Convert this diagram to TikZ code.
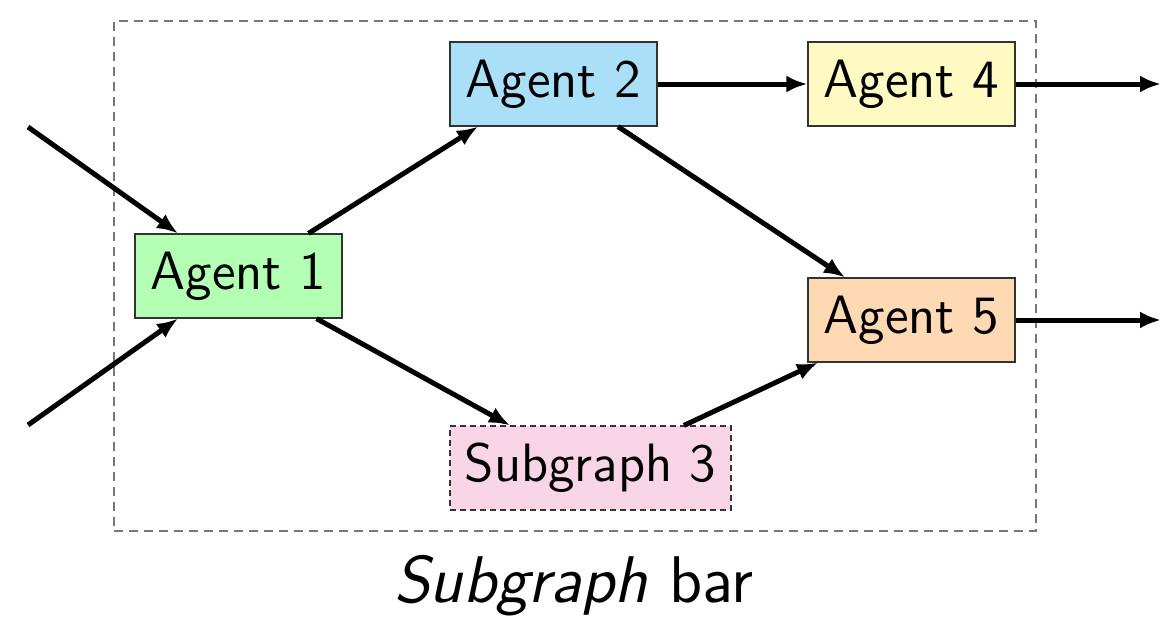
\documentclass[tikz,border=0pt]{standalone}
\usepackage{fontspec}
\setsansfont{lmsans12-regular.otf}[ItalicFont=lmsans12-oblique.otf]
\usetikzlibrary{arrows.meta}
\definecolor{cgreen}{HTML}{B3FFB3}
\definecolor{cblue}{HTML}{AADFF8}
\definecolor{cyellow}{HTML}{FFFAC2}
\definecolor{corange}{HTML}{FFD9B3}
\definecolor{cpink}{HTML}{F8D5E6}
\definecolor{cborder}{HTML}{333333}
\definecolor{cframe}{HTML}{777777}
\begin{document}
\begin{tikzpicture}[x=1pt,y=-1pt,
  agentbox/.style={draw=cborder, line width=1.2pt, inner sep=0pt, minimum width=207pt, minimum height=84pt,
    font=\fontsize{54}{60}\selectfont\sffamily},
  subbox/.style={agentbox, dashed, dash pattern=on 6pt off 4pt, minimum width=281pt},
  framebox/.style={draw=cframe, line width=1.3pt, dash pattern=on 9pt off 6pt, inner sep=0pt,
    minimum width=922pt, minimum height=510pt},
  conn/.style={line width=5pt, -{Latex[length=21pt,width=17pt]}}]
\useasboundingbox (0,0) rectangle (1161,622);
\node[framebox] (frame) at (575,276) {};
\node[agentbox, fill=cgreen] (a1) at (238.5,276) {Agent 1};
\node[agentbox, fill=cblue] (a2) at (553.5,84) {Agent 2};
\node[agentbox, fill=cyellow] (a4) at (911.5,84) {Agent 4};
\node[agentbox, fill=corange] (a5) at (911.5,320) {Agent 5};
\node[subbox, fill=cpink] (s3) at (590.5,468) {Subgraph 3};
\node[anchor=base, inner sep=0pt, font=\fontsize{66}{72}\selectfont\sffamily] (lbl) at (574,602) {\textit{Subgraph} bar};
\coordinate (in1) at (28,127);
\coordinate (in2) at (28,425);
\coordinate (out1) at (1161,84);
\coordinate (out2) at (1161,320);
\draw[conn] (in1) -- ([xshift=-60.5pt]a1.north);
\draw[conn] (in2) -- ([xshift=-60.5pt]a1.south);
\draw[conn] ([xshift=70pt]a1.north) -- ([xshift=-75.5pt]a2.south);
\draw[conn] ([xshift=78pt]a1.south) -- ([xshift=-80.5pt]s3.north);
\draw[conn] (a2.east) -- (a4.west);
\draw[conn] ([xshift=64.5pt]a2.south) -- ([xshift=-66.5pt]a5.north);
\draw[conn] ([xshift=93.5pt]s3.north) -- ([xshift=-93.5pt]a5.south);
\draw[conn] (a4.east) -- (out1);
\draw[conn] (a5.east) -- (out2);
\end{tikzpicture}
\end{document}
